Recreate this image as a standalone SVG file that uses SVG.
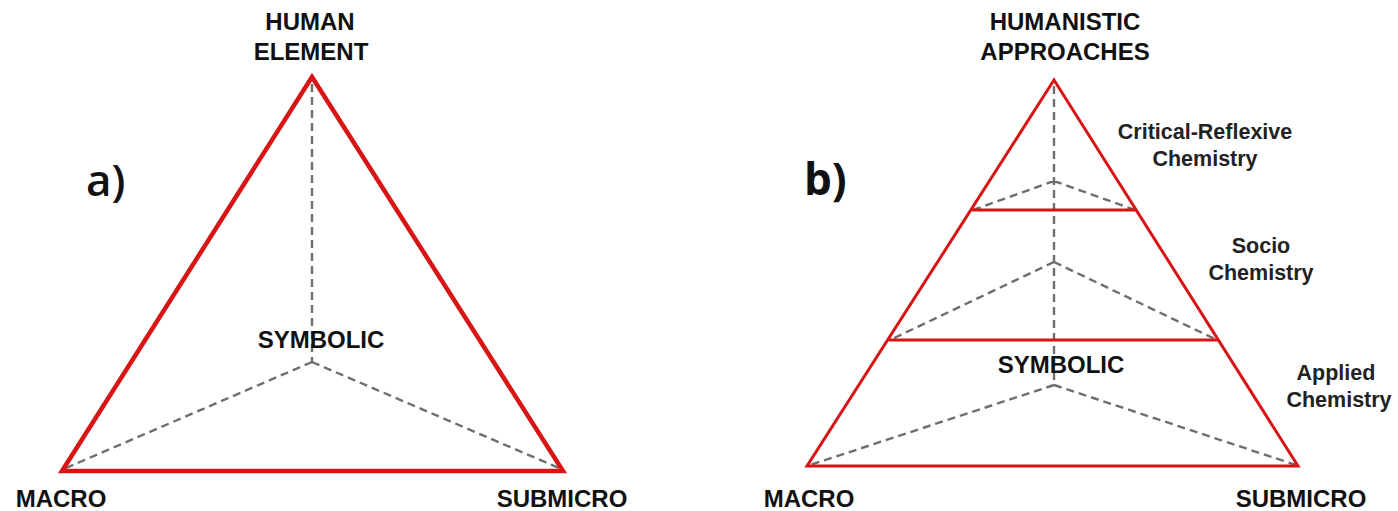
<svg xmlns="http://www.w3.org/2000/svg" width="1398" height="511" viewBox="0 0 1398 511">
<style>
.lbl{font-family:"Liberation Sans",Arial,sans-serif;font-weight:bold;font-size:24px;fill:#111;text-anchor:middle}
.sub{font-family:"Liberation Sans",Arial,sans-serif;font-weight:bold;font-size:21.5px;fill:#222;text-anchor:middle}
.tag{font-family:"Open Sans","Noto Sans",sans-serif;font-size:44px;fill:#111}
.red{fill:none;stroke:#d81414;stroke-linejoin:miter}
.dash{fill:none;stroke:#6e6e6e;stroke-width:2.4;stroke-dasharray:8 5}
</style>
<rect width="1398" height="511" fill="#fff"/>
<g id="connectors">
  <path class="dash" d="M312 84 V362 M312 362 L66 468 M312 362 L559 468"/>
  <path class="dash" d="M1054 86 V385 M1054 181 L973 210 M1054 181 L1135 210 M1054 262 L890 340 M1054 262 L1217 340 M1054 385 L810 465 M1054 385 L1296 465"/>
</g>
<g id="triangle-a">
  <polygon class="red" stroke-width="4.5" points="312,77 62,471 563,471"/>
</g>
<g id="triangle-b">
  <polygon class="red" stroke-width="3" points="1054,80 807,466 1298,466"/>
  <line class="red" stroke-width="3" x1="972" y1="210" x2="1136" y2="210"/>
  <line class="red" stroke-width="3" x1="889" y1="340" x2="1218" y2="340"/>
</g>
<g id="label-a">
  <text class="tag" x="86" y="196" font-weight="600">a)</text>
</g>
<g id="label-b">
  <text class="tag" x="804" y="195" font-weight="bold">b)</text>
</g>
<g id="node-human-element">
  <text class="lbl" x="310" y="30">HUMAN</text>
  <text class="lbl" x="311" y="60">ELEMENT</text>
</g>
<g id="node-symbolic-a">
  <text class="lbl" x="321" y="348">SYMBOLIC</text>
</g>
<g id="node-macro-a">
  <text class="lbl" x="61" y="507">MACRO</text>
</g>
<g id="node-submicro-a">
  <text class="lbl" x="562" y="507">SUBMICRO</text>
</g>
<g id="node-humanistic">
  <text class="lbl" x="1065" y="30">HUMANISTIC</text>
  <text class="lbl" x="1065" y="60">APPROACHES</text>
</g>
<g id="node-critical">
  <text class="sub" x="1205" y="139">Critical-Reflexive</text>
  <text class="sub" x="1205" y="166">Chemistry</text>
</g>
<g id="node-socio">
  <text class="sub" x="1261" y="253">Socio</text>
  <text class="sub" x="1261" y="280">Chemistry</text>
</g>
<g id="node-applied">
  <text class="sub" x="1336" y="380">Applied</text>
  <text class="sub" x="1339" y="407">Chemistry</text>
</g>
<g id="node-symbolic-b">
  <text class="lbl" x="1061" y="373">SYMBOLIC</text>
</g>
<g id="node-macro-b">
  <text class="lbl" x="809" y="507">MACRO</text>
</g>
<g id="node-submicro-b">
  <text class="lbl" x="1301" y="507">SUBMICRO</text>
</g>
</svg>
